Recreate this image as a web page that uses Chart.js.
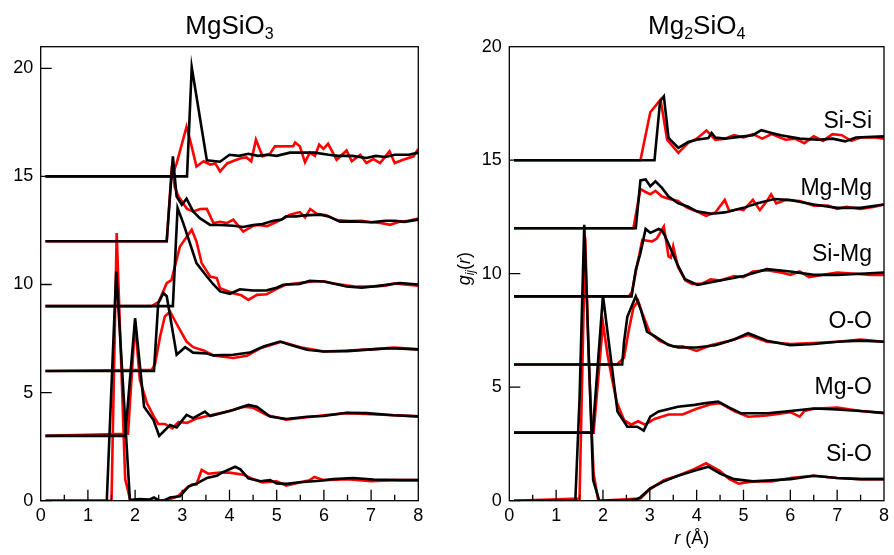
<!DOCTYPE html>
<html>
<head>
<meta charset="utf-8">
<script src="https://cdn.jsdelivr.net/npm/chart.js@4.4.0/dist/chart.umd.min.js"></script>
<style>
body{margin:0;background:#fff;}
canvas{position:absolute;top:0;}
#c1{left:0}
#c2{left:447px}
</style>
</head>
<body>
<canvas id="c1" width="447" height="555"></canvas>
<canvas id="c2" width="447" height="555"></canvas>
<script>
const family = '"Liberation Sans", Arial, Helvetica, sans-serif'

// pairs, bottom to top, each shifted by 3
const pairNames = ['Si-O', 'Mg-O', 'O-O', 'Si-Mg', 'Mg-Mg', 'Si-Si']
const xTicks = [0, 1, 2, 3, 4, 5, 6, 7, 8]
const yTicks = [0, 5, 10, 15, 20]

// ---- MgSiO3 : [r, g(r)+offset] ----
const mgsio3SiOBlack = [[0.1,0],[1.4,0],[1.6,10.6],[1.89,0.03],[1.98,0.05],[2.1,0.08],[2.3,0.05],[2.4,0.15],[2.51,0],[2.63,0.02],[2.74,0.15],[2.95,0.2],[3.13,0.65],[3.31,0.8],[3.52,1.05],[3.73,1.15],[3.84,1.3],[4.12,1.57],[4.23,1.45],[4.4,1.03],[4.65,0.9],[4.86,0.95],[5.0,0.8],[5.21,0.78],[5.49,0.85],[5.92,0.92],[6.2,1.0],[6.62,1.05],[7.05,0.98],[7.61,0.95],[8.0,0.95]]
const mgsio3SiORed = [[0.1,0],[1.5,0],[1.61,12.38],[1.79,1.0],[1.9,0],[2.2,0],[2.5,0],[2.7,0.05],[2.9,0.2],[3.1,0.6],[3.2,0.75],[3.3,0.75],[3.41,1.42],[3.55,1.25],[3.8,1.3],[4.0,1.3],[4.3,1.2],[4.5,1.0],[4.7,0.85],[5.0,0.9],[5.2,0.7],[5.5,0.85],[5.7,0.95],[5.8,1.1],[6.0,0.95],[6.5,1.0],[7.0,0.9],[7.5,0.95],[8.0,0.95]]
const mgsio3MgOBlack = [[0.1,3],[1.79,3],[2.0,8.44],[2.19,4.35],[2.39,3.73],[2.51,3.0],[2.74,3.5],[2.88,3.39],[3.09,3.97],[3.23,3.82],[3.48,4.12],[3.59,3.92],[4.08,4.2],[4.4,4.43],[4.58,4.35],[4.86,3.89],[5.21,3.78],[5.64,3.88],[5.99,3.92],[6.48,4.07],[6.9,4.05],[7.47,3.95],[8.0,3.9]]
const mgsio3MgORed = [[0.1,3],[1.85,3.1],[2.0,8.2],[2.1,5.59],[2.25,4.52],[2.39,3.92],[2.49,3.55],[2.63,3.55],[2.79,3.35],[2.92,3.64],[3.1,3.6],[3.3,3.8],[3.6,3.95],[4.0,4.15],[4.3,4.35],[4.5,4.3],[4.8,3.95],[5.2,3.75],[5.6,3.85],[6.0,3.95],[6.5,4.05],[7.0,4.0],[7.5,3.95],[8.0,3.9]]
const mgsio3OOBlack = [[0.1,6],[2.4,6],[2.49,9.14],[2.6,9.6],[2.67,9.46],[2.88,6.75],[3.06,7.1],[3.23,6.85],[3.52,6.81],[3.66,6.72],[4.08,6.75],[4.43,6.85],[4.72,7.13],[5.07,7.36],[5.28,7.21],[5.64,6.98],[5.99,6.9],[6.5,6.92],[7.0,7.0],[7.4,7.05],[8.0,7.0]]
const mgsio3OORed = [[0.1,6],[2.35,6.05],[2.42,6.3],[2.53,7.6],[2.63,8.52],[2.74,8.75],[2.85,8.3],[2.95,7.9],[3.09,7.36],[3.23,7.1],[3.45,6.95],[3.66,6.72],[4.08,6.6],[4.37,6.7],[4.65,7.05],[5.1,7.35],[5.5,7.1],[6.0,6.9],[6.5,6.95],[7.0,7.0],[7.5,7.08],[8.0,7.0]]
const mgsio3SiMgBlack = [[0.1,9],[2.8,9],[2.9,13.54],[3.02,12.84],[3.16,11.92],[3.3,10.99],[3.52,10.37],[3.66,10.0],[3.8,9.68],[4.01,9.57],[4.22,9.78],[4.5,9.72],[4.79,9.73],[5.0,9.85],[5.14,9.99],[5.49,10.03],[5.7,10.17],[5.99,10.14],[6.2,10.05],[6.48,9.91],[6.8,9.85],[7.2,9.95],[7.61,10.07],[8.0,10.0]]
const mgsio3SiMgRed = [[0.1,9],[2.35,9],[2.5,9.2],[2.67,10.06],[2.77,10.2],[2.95,11.76],[3.2,12.53],[3.3,11.99],[3.41,10.99],[3.59,10.37],[3.73,10.3],[3.8,9.83],[4.08,9.6],[4.25,9.5],[4.4,9.29],[4.58,9.52],[4.79,9.55],[5.0,9.8],[5.2,10.0],[5.4,10.05],[5.6,10.1],[5.8,10.15],[6.0,10.15],[6.2,10.05],[6.5,9.95],[6.7,9.9],[7.0,9.9],[7.3,9.95],[7.5,10.05],[7.7,10.0],[8.0,9.95]]
const mgsio3MgMgBlack = [[0.1,12],[2.67,12],[2.8,15.93],[2.88,14.07],[2.99,13.69],[3.09,13.97],[3.23,13.38],[3.37,13.07],[3.59,12.76],[3.8,12.75],[4.08,12.72],[4.29,12.66],[4.5,12.75],[4.7,12.8],[4.93,12.95],[5.1,13.0],[5.2,13.15],[5.42,13.15],[5.6,13.2],[5.92,13.23],[6.1,13.15],[6.34,12.91],[6.6,12.92],[7.0,12.88],[7.3,12.95],[7.5,12.95],[7.7,12.9],[8.0,13.0]]
const mgsio3MgMgRed = [[0.1,12],[2.67,12],[2.78,15.5],[2.84,14.5],[2.92,14.07],[3.1,13.5],[3.23,13.38],[3.38,13.49],[3.52,13.5],[3.66,12.84],[3.8,12.9],[3.94,12.84],[4.08,13.0],[4.29,12.45],[4.5,12.71],[4.6,12.75],[4.8,12.7],[5.0,12.9],[5.14,13.05],[5.28,13.23],[5.49,13.35],[5.6,13.1],[5.71,13.49],[5.85,13.27],[6.05,13.2],[6.27,12.98],[6.55,12.93],[6.8,12.95],[7.0,12.88],[7.2,12.85],[7.4,12.76],[7.6,12.9],[7.8,12.95],[8.0,13.05]]
const mgsio3SiSiBlack = [[0.1,15],[3.1,15],[3.2,20.05],[3.52,15.75],[3.8,15.68],[4.0,16.0],[4.2,15.95],[4.4,16.05],[4.6,15.95],[4.8,16.0],[5.0,15.95],[5.28,16.1],[5.5,16.1],[5.8,16.1],[6.1,16.0],[6.3,15.95],[6.6,15.95],[6.9,15.85],[7.1,15.95],[7.3,15.9],[7.5,16.0],[7.8,16.0],[8.0,16.1]]
const mgsio3SiSiRed = [[0.1,15],[2.78,15],[2.88,15.6],[3.09,17.3],[3.18,16.55],[3.3,15.46],[3.45,15.7],[3.59,15.55],[3.7,15.6],[3.8,15.23],[3.95,15.6],[4.12,15.75],[4.26,15.85],[4.36,15.88],[4.46,15.7],[4.56,16.7],[4.7,15.93],[4.86,16.05],[4.96,16.39],[5.35,16.4],[5.39,16.57],[5.49,16.39],[5.6,15.65],[5.7,16.1],[5.81,15.95],[5.9,16.47],[5.99,16.27],[6.09,16.51],[6.27,15.77],[6.48,16.2],[6.59,15.7],[6.77,16.0],[6.9,15.62],[7.05,15.8],[7.19,15.62],[7.39,16.16],[7.5,15.62],[7.68,15.77],[7.9,15.93],[8.0,16.27]]

// ---- Mg2SiO4 ----
const mg2sio4SiOBlack = [[0.1,0],[1.41,0],[1.5,4.5],[1.6,12.15],[1.79,0.91],[1.92,0],[2.5,0.02],[2.7,0.05],[2.8,0.15],[3.01,0.55],[3.3,0.85],[3.6,1.1],[4.0,1.35],[4.25,1.5],[4.5,1.2],[4.8,0.95],[5.2,0.85],[5.6,0.9],[6.0,0.95],[6.5,1.1],[7.0,1.0],[7.5,0.95],[8.0,0.95]]
const mg2sio4SiORed = [[0.1,0],[1.5,0.1],[1.62,11.6],[1.7,6.0],[1.8,1.2],[1.9,0],[2.8,0.1],[3.0,0.5],[3.3,0.9],[3.6,1.1],[3.9,1.35],[4.2,1.65],[4.5,1.3],[4.7,0.95],[4.9,0.75],[5.2,0.85],[5.6,0.85],[6.0,1.0],[6.5,1.1],[7.0,1.0],[7.5,0.95],[8.0,0.95]]
const mg2sio4MgOBlack = [[0.1,3],[1.78,3],[2.0,9.03],[2.19,5.91],[2.31,3.93],[2.52,3.26],[2.73,3.26],[2.87,3.09],[3.01,3.7],[3.19,3.93],[3.6,4.14],[3.96,4.22],[4.2,4.3],[4.46,4.37],[4.7,4.1],[4.95,3.85],[5.52,3.85],[6.0,3.95],[6.5,4.06],[6.9,4.03],[7.5,3.95],[8.0,3.87]]
const mg2sio4MgORed = [[0.1,3],[1.8,3],[2.0,7.82],[2.1,6.4],[2.2,5.3],[2.3,4.3],[2.45,3.55],[2.6,3.35],[2.75,3.5],[2.9,3.35],[3.1,3.6],[3.4,3.8],[3.7,3.8],[4.0,4.05],[4.3,4.25],[4.5,4.3],[4.8,3.95],[5.1,3.7],[5.5,3.75],[6.0,3.9],[6.2,3.7],[6.3,3.95],[6.5,4.05],[7.0,4.1],[7.5,3.95],[8.0,3.85]]
const mg2sio4OOBlack = [[0.1,6],[2.41,6],[2.45,7.0],[2.52,8.1],[2.7,9.0],[2.81,8.4],[2.94,7.45],[3.12,7.23],[3.4,6.86],[3.61,6.75],[4.0,6.75],[4.4,6.85],[4.8,7.1],[5.1,7.38],[5.5,7.05],[6.0,6.85],[6.5,6.9],[7.0,7.0],[7.5,7.05],[8.0,7.0]]
const mg2sio4OORed = [[0.1,6],[2.3,6],[2.45,6.3],[2.55,7.5],[2.65,8.5],[2.75,8.8],[2.85,8.2],[3.0,7.4],[3.2,7.05],[3.5,6.8],[3.7,6.8],[4.0,6.6],[4.3,6.85],[4.7,7.05],[5.1,7.3],[5.5,7.0],[6.0,6.9],[6.5,6.95],[7.0,7.0],[7.5,7.1],[8.0,7.0]]
const mg2sio4SiMgBlack = [[0.1,9],[2.61,9],[2.7,10.17],[2.8,10.9],[2.91,11.97],[3.01,11.8],[3.19,11.97],[3.26,11.9],[3.33,11.64],[3.61,10.32],[3.75,9.76],[4.02,9.51],[4.5,9.7],[5.0,9.9],[5.5,10.2],[6.0,10.1],[6.5,9.95],[7.0,9.95],[7.5,10.0],[8.0,10.05]]
const mg2sio4SiMgRed = [[0.1,9],[2.55,9],[2.62,9.2],[2.72,10.3],[2.84,11.49],[3.05,11.42],[3.15,11.55],[3.3,12.08],[3.4,10.76],[3.45,10.7],[3.5,11.2],[3.6,10.3],[3.76,9.7],[3.9,9.55],[4.1,9.55],[4.3,9.75],[4.5,9.7],[4.8,9.9],[5.0,9.85],[5.2,10.1],[5.5,10.15],[5.8,10.05],[6.0,9.95],[6.2,10.1],[6.4,9.85],[6.7,9.95],[7.0,10.05],[7.4,10.0],[7.7,9.95],[8.0,9.95]]
const mg2sio4MgMgBlack = [[0.1,12],[2.7,12],[2.8,14.11],[2.91,14.15],[3.01,13.85],[3.12,14.07],[3.26,13.78],[3.4,13.4],[3.61,13.1],[3.82,12.95],[4.0,12.75],[4.32,12.64],[4.6,12.7],[5.0,12.9],[5.3,13.1],[5.66,13.29],[6.0,13.25],[6.5,13.05],[7.0,12.9],[7.5,12.9],[8.0,13.05]]
const mg2sio4MgMgRed = [[0.1,12],[2.65,12],[2.8,13.73],[2.91,13.6],[3.01,13.5],[3.12,13.65],[3.26,13.4],[3.4,13.3],[3.6,13.2],[3.8,12.9],[4.0,12.75],[4.2,12.55],[4.4,12.7],[4.6,13.25],[4.7,12.75],[4.9,12.85],[5.0,12.8],[5.2,13.25],[5.35,12.8],[5.5,13.2],[5.59,13.5],[5.7,13.1],[5.9,13.25],[6.2,13.2],[6.5,13.0],[6.8,13.0],[7.0,12.85],[7.2,12.95],[7.5,12.85],[7.8,12.95],[8.0,13.05]]
const mg2sio4SiSiBlack = [[0.1,15],[3.1,15],[3.22,17.6],[3.3,17.81],[3.4,15.98],[3.61,15.54],[3.82,15.8],[4.0,15.9],[4.25,15.98],[4.32,16.2],[4.4,16.0],[4.6,15.95],[5.0,16.05],[5.2,16.1],[5.38,16.32],[5.6,16.2],[5.8,16.1],[6.2,15.95],[6.6,15.9],[6.9,15.95],[7.17,15.83],[7.4,16.0],[8.0,16.05]]
const mg2sio4SiSiRed = [[0.1,15],[2.8,15],[3.01,17.11],[3.23,17.67],[3.37,15.9],[3.61,15.32],[3.82,15.76],[4.0,15.95],[4.21,16.31],[4.4,15.9],[4.6,15.95],[4.8,16.1],[5.0,16.0],[5.2,16.15],[5.4,15.95],[5.6,16.15],[5.9,15.9],[6.1,15.95],[6.3,15.75],[6.5,16.05],[6.7,15.85],[6.9,16.15],[7.1,16.1],[7.3,15.85],[7.5,16.0],[7.8,16.0],[8.0,15.95]]

const leftBlack = [mgsio3SiOBlack, mgsio3MgOBlack, mgsio3OOBlack, mgsio3SiMgBlack, mgsio3MgMgBlack, mgsio3SiSiBlack]
const leftRed = [mgsio3SiORed, mgsio3MgORed, mgsio3OORed, mgsio3SiMgRed, mgsio3MgMgRed, mgsio3SiSiRed]
const rightBlack = [mg2sio4SiOBlack, mg2sio4MgOBlack, mg2sio4OOBlack, mg2sio4SiMgBlack, mg2sio4MgMgBlack, mg2sio4SiSiBlack]
const rightRed = [mg2sio4SiORed, mg2sio4MgORed, mg2sio4OORed, mg2sio4SiMgRed, mg2sio4MgMgRed, mg2sio4SiSiRed]

function makeSets(black, red){
    const sets = []
    black.forEach((s, i) => sets.push({label: pairNames[i], data: s.map(p => ({x: p[0], y: p[1]})),
        borderColor: '#000', borderWidth: 2.6, pointRadius: 0, tension: 0, order: 0}))
    red.forEach((s, i) => sets.push({label: pairNames[i], data: s.map(p => ({x: p[0], y: p[1]})),
        borderColor: '#ff0000', borderWidth: 2.6, pointRadius: 0, tension: 0, order: 1}))
    return sets
}

// text with sub parts, drawn left to right
function drawRich(ctx, parts, x, y, align){
    const fnt = p => (p.italic ? 'italic ' : '') + p.size + 'px ' + family
    let w = 0
    parts.forEach(p => { ctx.font = fnt(p); w += ctx.measureText(p.t).width })
    let cx = align === 'center' ? x - w / 2 : (align === 'right' ? x - w : x)
    ctx.textAlign = 'left'
    ctx.textBaseline = 'alphabetic'
    parts.forEach(p => {
        ctx.font = fnt(p)
        ctx.fillText(p.t, cx, y + (p.dy || 0))
        cx += ctx.measureText(p.t).width
    })
}

const framePlugin = {
    id: 'frame',
    afterDatasetsDraw(chart){
        const ctx = chart.ctx
        const a = chart.chartArea
        const x = chart.scales.x, y = chart.scales.y
        ctx.save()
        ctx.strokeStyle = '#000'
        ctx.lineWidth = 1.3
        ctx.strokeRect(a.left, a.top, a.right - a.left, a.bottom - a.top)
        ctx.beginPath()
        yTicks.forEach(v => {
            if (v < y.max){
                const py = y.getPixelForValue(v)
                ctx.moveTo(a.left, py); ctx.lineTo(a.left + 11, py)
            }
        })
        for (let v = 0.5; v < 8; v += 0.5){
            const px = x.getPixelForValue(v)
            ctx.moveTo(px, a.bottom); ctx.lineTo(px, a.bottom - (v % 1 === 0 ? 11 : 6))
        }
        ctx.stroke()
        ctx.restore()
    }
}

function titlePlugin(parts){
    return {
        id: 'richTitle',
        afterDraw(chart){
            const a = chart.chartArea
            chart.ctx.save()
            chart.ctx.fillStyle = '#000'
            drawRich(chart.ctx, parts, (a.left + a.right) / 2, 33.5, 'center')
            chart.ctx.restore()
        }
    }
}

const rightLabels = {
    id: 'pairLabels',
    afterDraw(chart){
        const ctx = chart.ctx
        const a = chart.chartArea
        ctx.save()
        ctx.fillStyle = '#000'
        pairNames.forEach((n, i) => {
            drawRich(ctx, [{t: n, size: 23}], a.right - 12, a.bottom - 40 - i * 66.5, 'right')
        })
        // axis titles
        drawRich(ctx, [{t: 'r', size: 18, italic: true}, {t: ' (Å)', size: 18}], (a.left + a.right) / 2 - 5, 544, 'center')
        ctx.translate(23, (a.top + a.bottom) / 2 - 5)
        ctx.rotate(-Math.PI / 2)
        drawRich(ctx, [{t: 'g', size: 18, italic: true}, {t: 'ij', size: 12, italic: true, dy: 4},
            {t: '(', size: 18}, {t: 'r', size: 18, italic: true}, {t: ')', size: 18}], 0, 0, 'center')
        ctx.restore()
    }
}

function panel(id, black, red, yMax, axisW, padRight, extra){
    return new Chart(document.getElementById(id), {
        type: 'line',
        data: {datasets: makeSets(black, red)},
        options: {
            responsive: false,
            animation: false,
            devicePixelRatio: 1,
            layout: {padding: {left: 0, right: padRight, top: 46.7, bottom: 0}},
            plugins: {legend: {display: false}, tooltip: {enabled: false}, title: {display: false}},
            scales: {
                x: {
                    type: 'linear', min: 0, max: 8,
                    afterBuildTicks: s => { s.ticks = xTicks.map(v => ({value: v})) },
                    afterFit: s => { s.height = 54.3 },
                    ticks: {color: '#000', font: {family: family, size: 18}, padding: 5, maxRotation: 0, autoSkip: false},
                    grid: {display: false, drawTicks: false},
                    border: {display: false}
                },
                y: {
                    type: 'linear', min: 0, max: yMax,
                    afterBuildTicks: s => { s.ticks = yTicks.map(v => ({value: v})) },
                    afterFit: s => { s.width = axisW },
                    ticks: {color: '#000', font: {family: family, size: 18}, padding: 7.5, autoSkip: false},
                    grid: {display: false, drawTicks: false},
                    border: {display: false}
                }
            }
        },
        plugins: extra
    })
}

panel('c1', leftBlack, leftRed, 21, 40.7, 28.7,
    [framePlugin, titlePlugin([{t: 'MgSiO', size: 26}, {t: '3', size: 16, dy: 5}])])
panel('c2', rightBlack, rightRed, 20, 62.3, 6.7,
    [framePlugin, rightLabels, titlePlugin([{t: 'Mg', size: 26}, {t: '2', size: 16, dy: 5}, {t: 'SiO', size: 26}, {t: '4', size: 16, dy: 5}])])
</script>
</body>
</html>
